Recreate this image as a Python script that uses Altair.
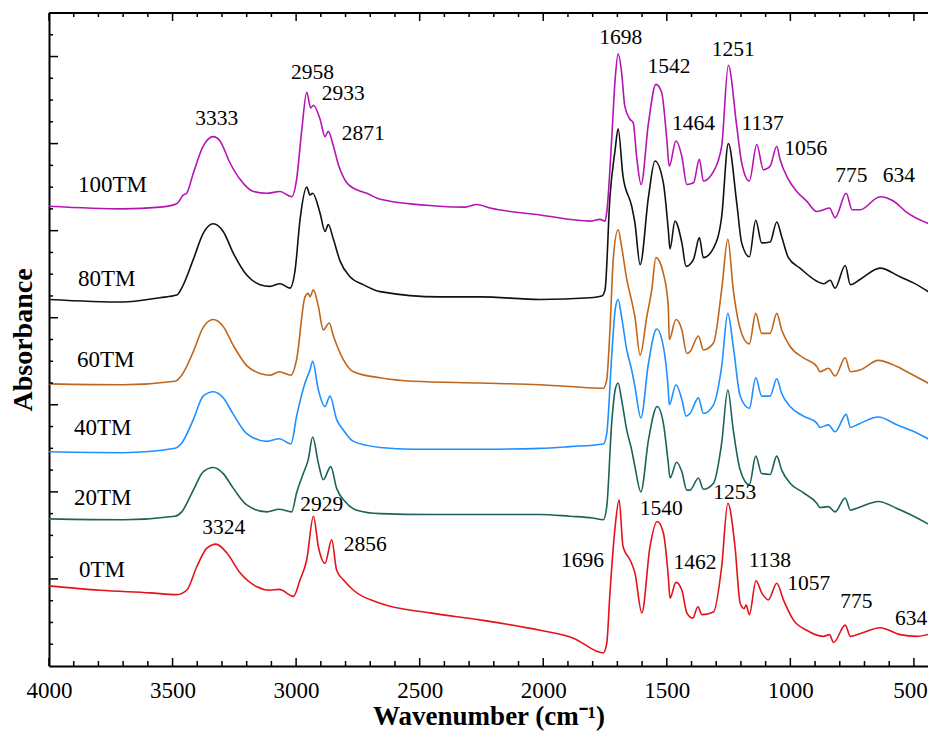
import altair as alt
import pandas as pd

# ---- spectra: (wavenumber cm-1, absorbance, offset included) ----
s100 = [(4000, 5.28), (3700, 5.25), (3551, 5.27), (3483, 5.31), (3456, 5.41), (3443, 5.43), (3416, 5.66),
        (3376, 5.97), (3335, 6.08), (3308, 6.03), (3268, 5.78), (3227, 5.59), (3173, 5.45), (3119, 5.43),
        (3065, 5.45), (3018, 5.39), (2998, 5.59), (2977, 6.16), (2957, 6.59), (2941, 6.41), (2930, 6.44),
        (2903, 6.28), (2883, 6.08), (2870, 6.14), (2849, 5.97), (2829, 5.76), (2795, 5.55), (2755, 5.47),
        (2714, 5.43), (2660, 5.36), (2418, 5.28), (2316, 5.27), (2269, 5.30), (2215, 5.26), (2013, 5.18),
        (1811, 5.11), (1770, 5.13), (1750, 5.11), (1743, 5.21), (1723, 6.05), (1709, 6.74), (1697, 7.03),
        (1683, 6.82), (1670, 6.43), (1649, 6.28), (1636, 6.24), (1622, 5.85), (1604, 5.53), (1574, 6.24),
        (1544, 6.68), (1521, 6.59), (1500, 6.05), (1490, 5.74), (1463, 6.03), (1439, 5.85), (1419, 5.53),
        (1392, 5.55), (1368, 5.82), (1352, 5.57), (1311, 5.68), (1278, 5.97), (1251, 6.90), (1217, 6.20),
        (1197, 5.78), (1166, 5.57), (1136, 5.99), (1109, 5.70), (1082, 5.74), (1055, 5.97), (1042, 5.82),
        (1008, 5.59), (974, 5.45), (934, 5.34), (893, 5.22), (866, 5.24), (842, 5.26), (819, 5.15),
        (774, 5.43), (750, 5.24), (718, 5.24), (637, 5.39), (583, 5.34), (529, 5.21), (410, 5.05)]

s80 = [(4000, 4.21), (3700, 4.18), (3551, 4.23), (3483, 4.26), (3463, 4.34), (3416, 4.67), (3376, 4.97),
       (3335, 5.08), (3295, 4.99), (3254, 4.74), (3200, 4.49), (3146, 4.38), (3106, 4.36), (3065, 4.39),
       (3025, 4.34), (3004, 4.55), (2984, 5.13), (2957, 5.50), (2944, 5.41), (2933, 5.43), (2903, 5.20),
       (2883, 4.99), (2870, 5.07), (2849, 4.90), (2822, 4.65), (2782, 4.47), (2728, 4.38), (2660, 4.30),
       (2418, 4.24), (2256, 4.24), (2013, 4.21), (1811, 4.23), (1763, 4.25), (1750, 4.32), (1730, 5.39),
       (1709, 5.93), (1697, 6.17), (1677, 5.62), (1642, 5.28), (1629, 5.09), (1608, 4.61), (1574, 5.39),
       (1548, 5.80), (1514, 5.55), (1494, 5.01), (1487, 4.79), (1467, 5.11), (1439, 4.86), (1422, 4.59),
       (1392, 4.67), (1368, 4.92), (1352, 4.69), (1311, 4.80), (1278, 5.16), (1251, 6.00), (1217, 5.32),
       (1197, 4.86), (1166, 4.70), (1140, 5.12), (1116, 4.86), (1082, 4.87), (1055, 5.10), (1035, 4.93),
       (1008, 4.69), (961, 4.57), (893, 4.42), (866, 4.39), (839, 4.43), (819, 4.34), (778, 4.60),
       (757, 4.38), (718, 4.44), (637, 4.57), (556, 4.47), (502, 4.40), (410, 4.24)]

s60 = [(4000, 3.24), (3700, 3.23), (3490, 3.27), (3463, 3.34), (3416, 3.61), (3376, 3.89), (3335, 3.98),
       (3295, 3.90), (3254, 3.68), (3200, 3.45), (3146, 3.36), (3106, 3.34), (3068, 3.38), (3021, 3.34),
       (2998, 3.52), (2964, 4.24), (2951, 4.28), (2944, 4.24), (2930, 4.32), (2910, 4.13), (2890, 3.86),
       (2866, 3.94), (2849, 3.79), (2809, 3.52), (2768, 3.38), (2660, 3.31), (2526, 3.27), (2256, 3.25),
       (2013, 3.23), (1892, 3.21), (1757, 3.19), (1743, 3.29), (1730, 3.86), (1716, 4.70), (1697, 5.01),
       (1683, 4.82), (1662, 4.44), (1642, 4.19), (1629, 4.01), (1608, 3.57), (1581, 4.01), (1561, 4.32),
       (1544, 4.69), (1514, 4.51), (1494, 4.13), (1490, 3.75), (1463, 3.98), (1439, 3.86), (1419, 3.59),
       (1406, 3.61), (1372, 3.79), (1352, 3.63), (1311, 3.71), (1278, 4.32), (1253, 4.90), (1231, 4.32),
       (1197, 3.82), (1166, 3.70), (1140, 4.05), (1116, 3.82), (1082, 3.82), (1055, 4.05), (1035, 3.86),
       (1001, 3.67), (947, 3.54), (893, 3.44), (880, 3.38), (846, 3.42), (819, 3.33), (778, 3.54),
       (757, 3.38), (718, 3.40), (644, 3.51), (569, 3.44), (515, 3.36), (410, 3.20)]

s40 = [(4000, 2.46), (3700, 2.45), (3490, 2.50), (3463, 2.56), (3416, 2.83), (3376, 3.10), (3335, 3.15),
       (3295, 3.08), (3254, 2.89), (3200, 2.67), (3119, 2.58), (3068, 2.61), (3021, 2.55), (2998, 2.87),
       (2964, 3.25), (2944, 3.40), (2933, 3.50), (2910, 3.17), (2883, 2.98), (2863, 3.10), (2836, 2.83),
       (2809, 2.71), (2768, 2.58), (2660, 2.51), (2526, 2.49), (2256, 2.49), (2013, 2.50), (1892, 2.52),
       (1757, 2.55), (1743, 2.67), (1723, 3.56), (1709, 4.09), (1697, 4.21), (1683, 4.01), (1662, 3.63),
       (1642, 3.40), (1629, 3.21), (1605, 2.85), (1574, 3.48), (1541, 3.87), (1514, 3.67), (1494, 3.17),
       (1490, 3.00), (1463, 3.23), (1439, 3.06), (1422, 2.87), (1406, 2.90), (1372, 3.08), (1352, 2.90),
       (1311, 3.00), (1278, 3.44), (1253, 4.05), (1231, 3.67), (1203, 3.10), (1166, 2.96), (1140, 3.31),
       (1116, 3.10), (1082, 3.10), (1055, 3.30), (1035, 3.13), (1001, 2.98), (947, 2.87), (893, 2.79),
       (880, 2.74), (846, 2.77), (819, 2.69), (774, 2.89), (757, 2.74), (723, 2.78), (644, 2.86),
       (569, 2.77), (515, 2.71), (410, 2.56)]

s20 = [(4000, 1.69), (3700, 1.68), (3490, 1.72), (3463, 1.77), (3416, 2.02), (3376, 2.23), (3335, 2.28),
       (3295, 2.21), (3254, 2.04), (3200, 1.85), (3119, 1.77), (3068, 1.80), (3018, 1.77), (2998, 1.99),
       (2971, 2.21), (2951, 2.37), (2933, 2.63), (2910, 2.33), (2890, 2.14), (2860, 2.29), (2836, 2.04),
       (2802, 1.89), (2755, 1.79), (2660, 1.75), (2458, 1.74), (2013, 1.74), (1892, 1.72), (1800, 1.70),
       (1757, 1.68), (1743, 1.83), (1723, 2.79), (1709, 3.17), (1697, 3.25), (1683, 3.06), (1662, 2.71),
       (1642, 2.48), (1629, 2.29), (1605, 2.00), (1574, 2.60), (1539, 2.98), (1514, 2.79), (1494, 2.33),
       (1487, 2.16), (1460, 2.34), (1439, 2.23), (1419, 2.02), (1406, 2.02), (1372, 2.16), (1352, 2.03),
       (1311, 2.10), (1278, 2.56), (1253, 3.17), (1231, 2.71), (1203, 2.25), (1166, 2.08), (1140, 2.41),
       (1116, 2.21), (1082, 2.20), (1055, 2.41), (1035, 2.25), (1001, 2.10), (947, 1.99), (893, 1.87),
       (880, 1.82), (846, 1.83), (819, 1.77), (778, 1.93), (757, 1.79), (723, 1.82), (644, 1.89),
       (569, 1.81), (515, 1.74), (410, 1.58)]

s0 = [(4000, 0.92), (3794, 0.87), (3591, 0.84), (3483, 0.82), (3443, 0.87), (3402, 1.14), (3362, 1.35),
      (3324, 1.40), (3281, 1.30), (3227, 1.07), (3159, 0.91), (3106, 0.87), (3068, 0.88), (3011, 0.80),
      (2984, 0.99), (2957, 1.22), (2930, 1.72), (2910, 1.37), (2883, 1.18), (2856, 1.45), (2836, 1.10),
      (2809, 0.99), (2768, 0.87), (2660, 0.72), (2458, 0.61), (2256, 0.53), (2013, 0.41), (1878, 0.32),
      (1757, 0.15), (1743, 0.26), (1730, 0.84), (1709, 1.60), (1693, 1.91), (1677, 1.37), (1649, 1.22),
      (1629, 1.07), (1601, 0.61), (1568, 1.37), (1539, 1.66), (1514, 1.53), (1494, 1.03), (1487, 0.78),
      (1463, 0.96), (1439, 0.87), (1419, 0.61), (1395, 0.55), (1374, 0.68), (1358, 0.59), (1311, 0.62),
      (1278, 1.14), (1253, 1.87), (1224, 1.37), (1203, 0.72), (1187, 0.66), (1179, 0.70), (1166, 0.59),
      (1139, 0.98), (1116, 0.84), (1089, 0.76), (1055, 0.95), (1028, 0.76), (988, 0.53), (934, 0.41),
      (866, 0.34), (842, 0.36), (825, 0.27), (778, 0.47), (757, 0.34), (719, 0.37), (637, 0.44),
      (556, 0.36), (488, 0.34), (410, 0.39)]

series_names = ["0TM", "20TM", "40TM", "60TM", "80TM", "100TM"]
series_data = [s0, s20, s40, s60, s80, s100]
series_colors = ["#E3121B", "#1D625A", "#1E90FF", "#C0661A", "#111111", "#B414B4"]

# series labels (text, wavenumber, absorbance)
series_label_text = ["100TM", "80TM", "60TM", "40TM", "20TM", "0TM"]
series_label_wn = [3883, 3883, 3887, 3899, 3899, 3879]
series_label_y = [5.52, 4.45, 3.51, 2.73, 1.93, 1.10]

# peak annotations
peak_text = ["3333", "2958", "2933", "2871", "1698", "1542", "1464", "1251", "1137", "1056", "775", "634",
             "3324", "2929", "2856", "1696", "1540", "1253", "1462", "1138", "1057", "775", "634"]
peak_wn = [3321, 2934, 2809, 2728, 1686, 1491, 1392, 1231, 1112, 938, 753, 561,
           3293, 2896, 2720, 1841, 1522, 1225, 1386, 1083, 926, 733, 511]
peak_y = [6.28, 6.81, 6.57, 6.11, 7.21, 6.88, 6.22, 7.07, 6.22, 5.94, 5.63, 5.63,
          1.59, 1.85, 1.39, 1.21, 1.80, 1.99, 1.18, 1.21, 0.94, 0.73, 0.54]

x_major = [4000, 3500, 3000, 2500, 2000, 1500, 1000, 500]
x_minor = [v for v in range(3900, 499, -100) if v % 500 != 0]
y_major = [1, 2, 3, 4, 5, 6, 7]
y_minor = [i / 4 for i in range(1, 30) if i % 4 != 0]

rows = []
for name, pts in zip(series_names, series_data):
    for w, a in pts:
        rows.append({"series": name, "wn": w, "A": a})
df = pd.DataFrame(rows)

W, H = 879, 653
FONT = "Liberation Serif"
xscale = alt.Scale(domain=[443, 4000], reverse=True, nice=False, zero=False)
yscale = alt.Scale(domain=[0, 7.5], nice=False, zero=False)

X_AXIS = alt.Axis(values=x_major, format="d", ticks=False, grid=False, labelFlush=False,
                  labelOverlap=False, labelFont=FONT, labelFontSize=23, labelColor="black",
                  labelOffset={"condition": {"test": "datum.value == 500", "value": -4}, "value": 0},
                  labelPadding=13, domainColor="black", domainWidth=2,
                  title="Wavenumber (cm\u207b\u00b9)", titleFont=FONT, titleFontSize=27,
                  titleFontWeight="bold", titleColor="black", titlePadding=1)
Y_AXIS = alt.Axis(labels=False, ticks=False, grid=False, domainColor="black", domainWidth=2,
                  title="Absorbance", titleFont=FONT, titleFontSize=28, titleFontWeight="bold",
                  titleColor="black", titlePadding=12)


def X(field):
    return alt.X(field, type="quantitative", scale=xscale, axis=X_AXIS)


def Y(field):
    return alt.Y(field, type="quantitative", scale=yscale, axis=Y_AXIS)


lines = alt.Chart(df).mark_line(strokeWidth=1.6, clip=True, interpolate="monotone").encode(
    x=X("wn"), y=Y("A"),
    color=alt.Color("series:N", scale=alt.Scale(domain=series_names, range=series_colors), legend=None),
    detail="series:N",
)


def xticks(values, y0, y1):
    return alt.Chart(pd.DataFrame({"v": values})).mark_rule(color="black", strokeWidth=1.5).encode(
        x=X("v"), y=alt.value(y0), y2=alt.value(y1))


def yticks(values, length):
    return alt.Chart(pd.DataFrame({"v": values})).mark_rule(color="black", strokeWidth=1.5).encode(
        y=Y("v"), x=alt.value(0), x2=alt.value(length))


top_border = alt.Chart(pd.DataFrame({"v": [0]})).mark_rule(color="black", strokeWidth=2).encode(
    x=alt.value(0), x2=alt.value(W), y=alt.value(0))

labels_df = pd.DataFrame({"t": series_label_text, "wn": series_label_wn, "A": series_label_y})
series_labels = alt.Chart(labels_df).mark_text(font=FONT, fontSize=23, align="left", baseline="middle",
                                               color="black").encode(x=X("wn"), y=Y("A"), text="t:N")

peaks_df = pd.DataFrame({"t": peak_text, "wn": peak_wn, "A": peak_y})
peak_labels = alt.Chart(peaks_df).mark_text(font=FONT, fontSize=21.5, align="center", baseline="middle",
                                            color="black").encode(x=X("wn"), y=Y("A"), text="t:N")

chart = alt.layer(
    lines,
    xticks(x_major, H, H - 8), xticks(x_minor, H, H - 5),
    xticks(x_major, 0, 8), xticks(x_minor, 0, 4),
    yticks(y_major, 9), yticks(y_minor, 4),
    top_border, series_labels, peak_labels,
).properties(
    width=W, height=H,
    autosize=alt.AutoSizeParams(type="none"),
    padding={"left": 41, "top": 5, "right": 0, "bottom": 68},
    background="white",
).configure_view(stroke=None)

chart.save("out.html", embed_options={"renderer": "svg", "actions": False})
